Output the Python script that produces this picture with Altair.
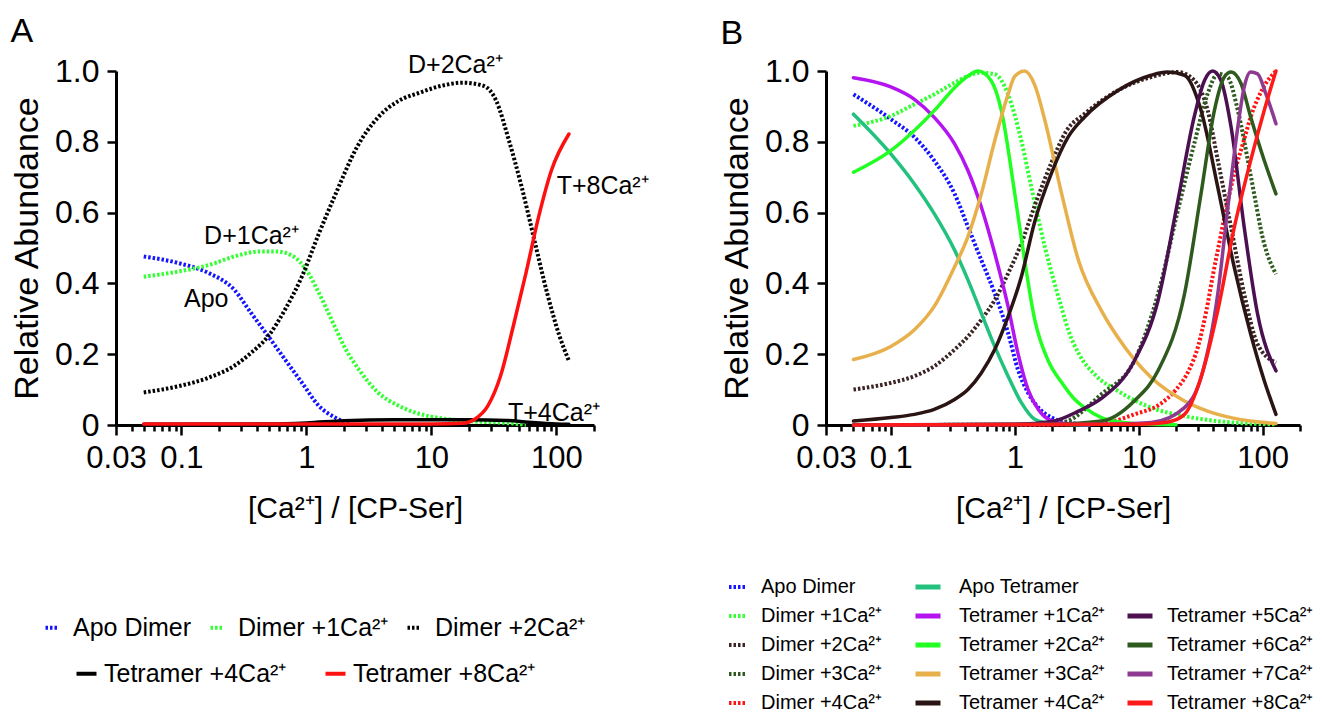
import altair as alt
import pandas as pd

FONT = "Liberation Sans"

# ---------------- Panel A data ----------------
A_APO_X = [0.05, 0.096, 0.166, 0.265, 0.362, 0.495, 0.675, 0.92, 1.26, 1.72, 2.2]
A_APO_Y = [0.476, 0.457, 0.429, 0.382, 0.316, 0.251, 0.185, 0.12, 0.054, 0.02, 0.003]

A_D1_X = [0.05, 0.096, 0.166, 0.265, 0.42, 0.58, 0.79, 1.0, 1.26, 1.59, 2.0, 2.74, 3.74, 5.5, 8.1, 12, 17.8, 38.6, 57]
A_D1_Y = [0.419, 0.434, 0.452, 0.476, 0.49, 0.49, 0.476, 0.438, 0.373, 0.298, 0.223, 0.148, 0.092, 0.054, 0.031, 0.019, 0.012, 0.006, 0.001]

A_D2_X = [0.05, 0.096, 0.166, 0.265, 0.362, 0.495, 0.675, 0.92, 1.26, 1.72, 2.54, 3.74, 5.5, 8.1, 12, 17.8, 26.2, 33, 41.8, 52.8, 66.7, 84.3, 106, 126]
A_D2_Y = [0.092, 0.11, 0.134, 0.167, 0.204, 0.251, 0.326, 0.419, 0.541, 0.654, 0.785, 0.869, 0.916, 0.939, 0.958, 0.967, 0.958, 0.916, 0.803, 0.672, 0.522, 0.373, 0.251, 0.181]

A_T4_X = [0.05, 0.5, 1, 2, 5, 10, 20, 40, 60, 100, 126]
A_T4_Y = [0.002, 0.003, 0.006, 0.012, 0.015, 0.015, 0.015, 0.013, 0.008, 0.003, 0.002]

A_T8_X = [0.05, 1, 10, 17.8, 22.4, 28.3, 35.8, 45.2, 57.1, 72.1, 91.2, 126]
A_T8_Y = [0.003, 0.003, 0.003, 0.005, 0.017, 0.054, 0.139, 0.279, 0.429, 0.588, 0.719, 0.822]

A_DIMER_NAMES = ["Apo Dimer", "Dimer +1Ca²⁺", "Dimer +2Ca²⁺"]
A_DIMER_COLORS = ["#1414ff", "#33ff33", "#000000"]
A_TET_NAMES = ["Tetramer +4Ca²⁺", "Tetramer +8Ca²⁺"]
A_TET_COLORS = ["#000000", "#ff1010"]

A_NOTE_TEXT = ["D+2Ca²⁺", "D+1Ca²⁺", "Apo", "T+8Ca²⁺", "T+4Ca²⁺"]
A_NOTE_X = [6.5, 0.152, 0.105, 100.5, 41]
A_NOTE_Y = [0.994, 0.511, 0.333, 0.653, 0.012]

# ---------------- Panel B data ----------------
B_APO_D_X = [0.05, 0.1, 0.155, 0.224, 0.327, 0.419, 0.537, 0.689, 0.883, 1.06, 1.28, 1.55, 1.98, 2.71, 3.26]
B_APO_D_Y = [0.934, 0.864, 0.813, 0.747, 0.653, 0.56, 0.466, 0.372, 0.26, 0.157, 0.091, 0.049, 0.021, 0.007, 0.003]

B_D1_X = [0.05, 0.1, 0.155, 0.224, 0.327, 0.419, 0.537, 0.689, 0.883, 1.13, 1.36, 1.75, 2.39, 2.69, 3.3, 4.5, 6.8, 12.6, 23.4, 43.4, 80, 128]
B_D1_Y = [0.845, 0.873, 0.906, 0.934, 0.967, 0.986, 0.995, 0.991, 0.934, 0.803, 0.672, 0.503, 0.33, 0.27, 0.2, 0.14, 0.096, 0.049, 0.025, 0.011, 0.004, 0.002]

B_D2_X = [0.05, 0.1, 0.155, 0.224, 0.327, 0.419, 0.537, 0.689, 0.883, 1.13, 1.45, 1.97, 2.6, 3.66, 6.8, 12.6, 20.7, 28, 36, 43.5, 55.6, 71, 91, 128]
B_D2_Y = [0.1, 0.119, 0.138, 0.166, 0.213, 0.25, 0.297, 0.353, 0.428, 0.513, 0.62, 0.74, 0.83, 0.879, 0.945, 0.983, 0.997, 0.974, 0.889, 0.747, 0.558, 0.37, 0.228, 0.176]

B_D3_X = [0.05, 1, 2.38, 5, 9.2, 14.3, 20.7, 28, 36, 43.5, 52, 63, 80.5, 103, 128]
B_D3_Y = [0.0, 0.001, 0.007, 0.087, 0.181, 0.37, 0.606, 0.794, 0.936, 0.992, 0.983, 0.889, 0.7, 0.511, 0.426]

B_D4_X = [0.05, 1, 5, 9.2, 15, 20, 25, 30, 35, 40, 45, 50, 60, 70, 80, 100, 128]
B_D4_Y = [0.0, 0.0, 0.005, 0.03, 0.06, 0.1, 0.15, 0.22, 0.32, 0.43, 0.52, 0.6, 0.72, 0.8, 0.87, 0.95, 1.0]

B_T0_X = [0.05, 0.1, 0.155, 0.224, 0.327, 0.419, 0.537, 0.689, 0.883, 1.13, 1.45, 1.87, 2.5, 4]
B_T0_Y = [0.878, 0.766, 0.681, 0.597, 0.494, 0.41, 0.316, 0.222, 0.138, 0.063, 0.016, 0.005, 0.002, 0.0]

B_T1_X = [0.05, 0.1, 0.155, 0.224, 0.327, 0.419, 0.537, 0.689, 0.883, 1.06, 1.28, 1.55, 1.87, 2.39, 4]
B_T1_Y = [0.981, 0.955, 0.92, 0.869, 0.794, 0.719, 0.616, 0.485, 0.335, 0.203, 0.1, 0.044, 0.016, 0.005, 0.001]

B_T2_X = [0.05, 0.1, 0.155, 0.224, 0.327, 0.419, 0.505, 0.647, 0.78, 1.0, 1.2, 1.45, 1.87, 2.39, 3.0, 3.66, 5, 6.8, 10, 20]
B_T2_Y = [0.714, 0.775, 0.832, 0.888, 0.953, 0.986, 1.0, 0.972, 0.888, 0.653, 0.466, 0.297, 0.18, 0.12, 0.075, 0.049, 0.021, 0.009, 0.003, 0.001]

B_T3_X = [0.05, 0.1, 0.155, 0.224, 0.327, 0.419, 0.537, 0.689, 0.883, 1.0, 1.2, 1.45, 1.75, 2.39, 3.26, 5, 6.8, 12.6, 23.4, 43.4, 80, 128]
B_T3_Y = [0.185, 0.222, 0.269, 0.335, 0.447, 0.532, 0.653, 0.803, 0.934, 0.985, 1.0, 0.96, 0.86, 0.653, 0.466, 0.323, 0.247, 0.134, 0.068, 0.03, 0.011, 0.004]

B_T4_X = [0.05, 0.1, 0.155, 0.224, 0.327, 0.419, 0.537, 0.689, 0.883, 1.13, 1.45, 1.97, 2.69, 3.66, 6.8, 12.6, 17, 23.4, 31.8, 43.4, 59, 80, 103, 128]
B_T4_Y = [0.011, 0.021, 0.03, 0.044, 0.072, 0.1, 0.147, 0.213, 0.306, 0.419, 0.575, 0.71, 0.813, 0.87, 0.945, 0.988, 0.997, 0.988, 0.889, 0.672, 0.445, 0.257, 0.125, 0.03]

B_T5_X = [0.05, 1, 2, 3.3, 5, 9.2, 14.3, 20.7, 28, 34, 39.5, 46, 55.6, 71, 91, 128]
B_T5_Y = [0.0, 0.002, 0.01, 0.04, 0.075, 0.181, 0.351, 0.634, 0.87, 0.974, 1.0, 0.974, 0.842, 0.558, 0.313, 0.153]

B_T6_X = [0.05, 2, 5, 9.2, 14.3, 23.4, 31.8, 40.8, 49, 55.6, 67, 80, 103, 128]
B_T6_Y = [0.0, 0.002, 0.011, 0.068, 0.153, 0.37, 0.653, 0.889, 0.983, 0.997, 0.964, 0.87, 0.747, 0.653]

B_T7_X = [0.05, 5, 12.6, 23.4, 31.8, 43.4, 52, 63, 71, 80, 91, 106, 128]
B_T7_Y = [0.0, 0.002, 0.007, 0.049, 0.134, 0.37, 0.606, 0.842, 0.955, 0.997, 0.992, 0.936, 0.851]

B_T8_X = [0.05, 10, 17, 23.4, 31.8, 43.4, 59, 80, 103, 128]
B_T8_Y = [0.0, 0.002, 0.008, 0.03, 0.134, 0.323, 0.558, 0.747, 0.889, 1.0]

B_DIMER_NAMES = ["Apo Dimer", "Dimer +1Ca²⁺", "Dimer +2Ca²⁺", "Dimer +3Ca²⁺", "Dimer +4Ca²⁺"]
B_DIMER_COLORS = ["#1414ff", "#33ff33", "#3a2424", "#2e5a1e", "#ff1414"]
B_TETA_NAMES = ["Apo Tetramer", "Tetramer +1Ca²⁺", "Tetramer +2Ca²⁺", "Tetramer +3Ca²⁺", "Tetramer +4Ca²⁺"]
B_TETA_COLORS = ["#22c27e", "#b414f0", "#22ff22", "#e8b04a", "#2a1414"]
B_TETB_NAMES = ["Tetramer +5Ca²⁺", "Tetramer +6Ca²⁺", "Tetramer +7Ca²⁺", "Tetramer +8Ca²⁺"]
B_TETB_COLORS = ["#4b1050", "#2f5a1e", "#8e3a91", "#ff1a1a"]

# ---------------- axes ----------------
X_TICKS = [0.03, 0.04, 0.05, 0.06, 0.07, 0.08, 0.09,
           0.1, 0.2, 0.3, 0.4, 0.5, 0.6, 0.7, 0.8, 0.9,
           1, 2, 3, 4, 5, 6, 7, 8, 9,
           10, 20, 30, 40, 50, 60, 70, 80, 90,
           100, 200]
X_MAJOR = [0.03, 0.1, 1, 10, 100]
Y_TICKS = [0, 0.2, 0.4, 0.6, 0.8, 1.0]

major_test = "indexof([" + ",".join(str(v) for v in X_MAJOR) + "], datum.value) >= 0"

xscale = alt.Scale(type="log", domain=[0.03, 200], nice=False)
yscale = alt.Scale(domain=[0, 1], nice=False, zero=False)


def x_enc():
    return alt.X(
        "x:Q", scale=xscale, title="[Ca²⁺] / [CP-Ser]",
        axis=alt.Axis(
            values=X_TICKS, grid=False, labelOverlap=False, labelFlush=False, labelBound=False,
            labelExpr=major_test + " ? format(datum.value, '~g') : ''",
            tickSize={"condition": {"test": major_test, "value": 10}, "value": 6},
            tickWidth=2.5, tickColor="black", domainWidth=3, domainColor="black",
            labelFont=FONT, labelFontSize=31, labelColor="black", labelPadding=8,
            titleFont=FONT, titleFontSize=30, titleFontWeight="normal", titleColor="black",
            titlePadding=20,
        ),
    )


def y_enc():
    return alt.Y(
        "y:Q", scale=yscale, title="Relative Abundance",
        axis=alt.Axis(
            values=Y_TICKS, grid=False, labelOverlap=False, labelFlush=False,
            labelExpr="datum.value == 0 ? '0' : format(datum.value, '.1f')",
            tickSize=9, tickWidth=2.5, tickColor="black", domainWidth=3, domainColor="black",
            labelFont=FONT, labelFontSize=32, labelColor="black", labelPadding=8,
            titleFont=FONT, titleFontSize=34, titleFontWeight="normal", titleColor="black",
            titlePadding=10,
        ),
    )


def frame(names, xs_list, ys_list):
    recs = []
    for name, xs, ys in zip(names, xs_list, ys_list):
        for x, y in zip(xs, ys):
            recs.append({"series": name, "x": x, "y": y})
    return pd.DataFrame(recs)


def lines(df, names, colors, legend, dotted):
    mk = dict(strokeWidth=4 if dotted else 3.5, interpolate="monotone", clip=False)
    if dotted:
        mk["strokeDash"] = [2.5, 2]
        mk["strokeCap"] = "butt"
    else:
        mk["strokeCap"] = "round"
    return alt.Chart(df).mark_line(**mk).encode(
        x=x_enc(), y=y_enc(),
        color=alt.Color("series:N", scale=alt.Scale(domain=names, range=colors),
                        sort=names, legend=legend),
    )


def make_legend(lx, ly, direction, size, dash, font_size, offset, colpad=14, rowpad=6, width=4):
    kw = dict(orient="none", legendX=lx, legendY=ly, direction=direction, title=None,
              symbolType="stroke", symbolSize=size, symbolStrokeWidth=width,
              labelFont=FONT, labelFontSize=font_size, labelColor="black", labelLimit=0,
              labelOffset=offset, columnPadding=colpad, rowPadding=rowpad, padding=0)
    if dash:
        kw["symbolDash"] = [2.5, 2]
    return alt.Legend(**kw)


# ---------------- Panel A ----------------
dfA_dimer = frame(A_DIMER_NAMES, [A_APO_X, A_D1_X, A_D2_X], [A_APO_Y, A_D1_Y, A_D2_Y])
dfA_tet = frame(A_TET_NAMES, [A_T4_X, A_T8_X], [A_T4_Y, A_T8_Y])
dfA_note = pd.DataFrame({"text": A_NOTE_TEXT, "x": A_NOTE_X, "y": A_NOTE_Y})

A_dimer = lines(dfA_dimer, A_DIMER_NAMES, A_DIMER_COLORS,
                make_legend(-77, 544, "horizontal", 144, True, 25, 9, colpad=10), True)
A_tet = lines(dfA_tet, A_TET_NAMES, A_TET_COLORS,
              make_legend(-42, 590, "horizontal", 400, False, 25, 5, colpad=30), False)
A_notes = alt.Chart(dfA_note).mark_text(
    align="left", baseline="alphabetic", font=FONT, fontSize=25, color="black"
).encode(x=x_enc(), y=y_enc(), text="text:N")

panelA = alt.layer(A_dimer, A_tet, A_notes).resolve_scale(color="independent").properties(
    width=478, height=354,
    title=alt.TitleParams("A", anchor="start", frame="bounds", font=FONT, fontSize=34,
                          fontWeight="normal", color="black", offset=4),
)

# ---------------- Panel B ----------------
dfB_dimer = frame(B_DIMER_NAMES, [B_APO_D_X, B_D1_X, B_D2_X, B_D3_X, B_D4_X],
                  [B_APO_D_Y, B_D1_Y, B_D2_Y, B_D3_Y, B_D4_Y])
dfB_teta = frame(B_TETA_NAMES, [B_T0_X, B_T1_X, B_T2_X, B_T3_X, B_T4_X],
                 [B_T0_Y, B_T1_Y, B_T2_Y, B_T3_Y, B_T4_Y])
dfB_tetb = frame(B_TETB_NAMES, [B_T5_X, B_T6_X, B_T7_X, B_T8_X],
                 [B_T5_Y, B_T6_Y, B_T7_Y, B_T8_Y])

B_dimer = lines(dfB_dimer, B_DIMER_NAMES, B_DIMER_COLORS,
                make_legend(-99, 505, "vertical", 324, True, 20, 12, rowpad=8), True)
B_teta = lines(dfB_teta, B_TETA_NAMES, B_TETA_COLORS,
               make_legend(87, 501, "vertical", 625, False, 20, 16, rowpad=4, width=5), False)
B_tetb = lines(dfB_tetb, B_TETB_NAMES, B_TETB_COLORS,
               make_legend(299, 530, "vertical", 625, False, 20, 12, rowpad=4, width=5), False)

panelB = alt.layer(B_dimer, B_teta, B_tetb).resolve_scale(color="independent").properties(
    width=474, height=354,
    title=alt.TitleParams("B", anchor="start", frame="bounds", font=FONT, fontSize=34,
                          fontWeight="normal", color="black", offset=4),
)

chart = alt.hconcat(panelA, panelB, spacing=232).properties(
    bounds="flush",
    padding={"left": 10, "top": 15, "right": 0, "bottom": 0},
).configure_view(stroke=None)

chart.save("out.html", embed_options={"renderer": "svg", "actions": False})
